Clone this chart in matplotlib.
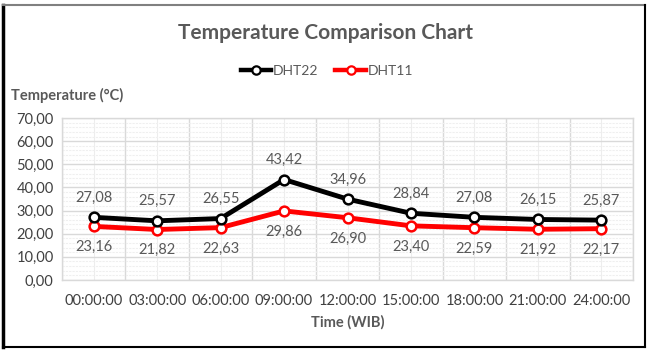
import matplotlib
matplotlib.use("Agg")
import matplotlib.pyplot as plt
from matplotlib.lines import Line2D
from matplotlib.ticker import MultipleLocator, FuncFormatter

times = ["00:00:00", "03:00:00", "06:00:00", "09:00:00", "12:00:00",
         "15:00:00", "18:00:00", "21:00:00", "24:00:00"]
dht22 = [27.08, 25.57, 26.55, 43.42, 34.96, 28.84, 27.08, 26.15, 25.87]
dht11 = [23.16, 21.82, 22.63, 29.86, 26.90, 23.40, 22.59, 21.92, 22.17]

plt.rcParams['font.family'] = ['Lato', 'DejaVu Sans']
gray = "#595959"

fig = plt.figure(figsize=(6.5, 3.55), dpi=100)
ax = fig.add_axes([62/650, 1-280/355, (633-62)/650, (280-118)/355])

x = list(range(len(times)))
ax.set_xlim(-0.5, len(times)-0.5)
ax.set_ylim(0, 70)

# grid
ax.yaxis.set_major_locator(MultipleLocator(10))
ax.yaxis.set_minor_locator(MultipleLocator(2))
ax.set_xticks(x)
ax.set_xticks([i + 0.5 for i in range(-1, len(times))], minor=True)
ax.grid(True, which='major', axis='y', color='#d9d9d9', lw=1.0)
ax.grid(True, which='minor', axis='y', color='#efefef', lw=0.8, ls=(0, (2, 1)))
ax.grid(True, which='minor', axis='x', color='#d9d9d9', lw=1.0)
ax.grid(True, which='major', axis='x', color='#ededed', lw=0.8)
ax.set_axisbelow(True)
for s in ax.spines.values():
    s.set_color('#d9d9d9')
    s.set_linewidth(1.0)

ax.plot(x, dht22, color='black', lw=3.5, marker='o', ms=7, mfc='white',
        mec='black', mew=1.8, zorder=4, label='DHT22')
ax.plot(x, dht11, color='#ff0000', lw=3.5, marker='o', ms=7, mfc='white',
        mec='#ff0000', mew=1.8, zorder=3, label='DHT11')

fmt = lambda v: f"{v:.2f}".replace('.', ',')
for xi, v in zip(x, dht22):
    ax.annotate(fmt(v), (xi, v), xytext=(0, 14), textcoords='offset points',
                ha='center', va='center', fontsize=10.5, color=gray)
for xi, v in zip(x, dht11):
    ax.annotate(fmt(v), (xi, v), xytext=(0, -15), textcoords='offset points',
                ha='center', va='center', fontsize=10.5, color=gray)

ax.set_xticklabels(times, fontsize=10.5, color='black')
ax.yaxis.set_major_formatter(FuncFormatter(lambda v, p: fmt(v)))
ax.tick_params(axis='both', which='both', length=0, labelsize=10.5, colors='black')
ax.tick_params(axis='y', pad=6)
ax.tick_params(axis='x', pad=10)
for lbl in ax.get_yticklabels() + ax.get_xticklabels():
    lbl.set_color('#404040')

fig.text(325/650, 1-33/355, "Temperature Comparison Chart", ha='center', va='center',
         fontsize=15, fontweight='bold', color=gray)
fig.text(11/650, 1-95/355, "Temperature (°C)", ha='left', va='center',
         fontsize=10.5, fontweight='bold', color=gray)
fig.text(348/650, 1-322/355, "Time (WIB)", ha='center', va='center',
         fontsize=10.5, fontweight='bold', color=gray)

handles = [Line2D([], [], color='black', lw=3.2, marker='o', ms=6, mfc='white', mec='black', mew=1.6),
           Line2D([], [], color='#ff0000', lw=3.2, marker='o', ms=6, mfc='white', mec='#ff0000', mew=1.6)]
leg = fig.legend(handles, ['DHT22', 'DHT11'], loc='center', bbox_to_anchor=(327/650, 1-71/355),
                 ncol=2, frameon=False, fontsize=10, handlelength=2.2, handletextpad=0.15,
                 columnspacing=1.2)
for t in leg.get_texts():
    t.set_color(gray)

# outer frame
fig.add_artist(Line2D([3/650, 3/650], [1-5/355, 1-347/355], transform=fig.transFigure, color='black', lw=2.5))
fig.add_artist(Line2D([3/650, 645/650], [1-5/355, 1-5/355], transform=fig.transFigure, color='#808080', lw=1.5))
fig.add_artist(Line2D([645/650, 645/650], [1-5/355, 1-347/355], transform=fig.transFigure, color='black', lw=1.5))
fig.add_artist(Line2D([3/650, 645/650], [1-347/355, 1-347/355], transform=fig.transFigure, color='black', lw=1.5))

fig.savefig("out.png", dpi=100)
